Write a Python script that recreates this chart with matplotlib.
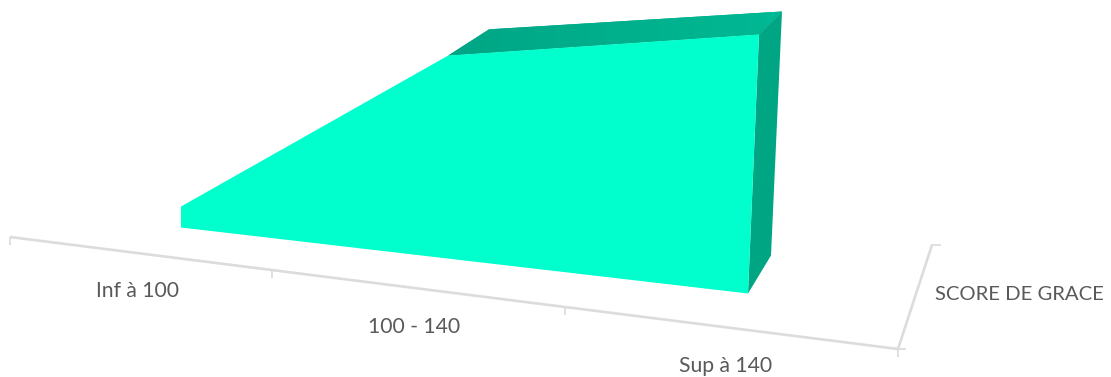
import numpy as np
import matplotlib
matplotlib.use("Agg")
import matplotlib.pyplot as plt
from matplotlib.patches import Polygon

categories = ["Inf à 100", "100 - 140", "Sup à 140"]
series_name = "SCORE DE GRACE"
values = [8.1, 78.2, 100.0]

W, H = 1111, 377
FRONT = "#00FFCC"
SIDE = "#00A683"
TOP_DARK = "#00A685"
TOP_LIGHT = "#00B994"
AXIS = "#DCDCDC"
TEXT = "#595959"

fig = plt.figure(figsize=(W / 100, H / 100), dpi=100)
ax = fig.add_axes([0, 0, 1, 1])
ax.set_xlim(0, W)
ax.set_ylim(H, 0)
ax.axis("off")

# Oblique perspective of the 3-D area chart, expressed in figure pixels.
base_left = np.array([181.0, 227.5])
base_right = np.array([748.0, 293.5])
k = 1.155          # horizontal foreshortening
px_per_unit = 2.59
lean = 11 / 259    # the vertical axis leans right towards the viewer


def project(c, v, d=0.0):
    """Category position c (0..n-1), value v, depth d (0..1) to pixels."""
    t = c / (len(categories) - 1)
    f = t / (t + k * (1 - t))
    b = base_left + f * (base_right - base_left)
    h = v * px_per_unit
    x = b[0] + f * lean * h
    y = b[1] - h
    dx = 41 + (23 - 41) * (2 * t - 1) if t >= 0.5 else 41 + 18 * (1 - 2 * t)
    dy = 38 - 15 * (v / max(values))
    return np.array([x + d * dx, y - d * dy])


n = len(values)
idx = range(n)

# axes
ax_start, ax_end = (10, 237), (898, 349)
tick_x = [10, 272, 565, 898]
depth_end = (932, 245)
slope = (ax_end[1] - ax_start[1]) / (ax_end[0] - ax_start[0])
lw = 1.9
ax.plot([ax_start[0], ax_end[0]], [ax_start[1], ax_end[1]], color=AXIS, lw=lw, solid_capstyle="butt")
for x in tick_x:
    y = ax_start[1] + slope * (x - ax_start[0])
    ax.plot([x, x], [y, y + 8], color=AXIS, lw=1.3, solid_capstyle="butt")
ax.plot([ax_end[0], depth_end[0]], [ax_end[1], depth_end[1]], color=AXIS, lw=lw, solid_capstyle="butt")
ax.plot([ax_end[0], ax_end[0] + 7], [ax_end[1], ax_end[1]], color=AXIS, lw=1.3)
ax.plot([depth_end[0], depth_end[0] + 8], [depth_end[1], depth_end[1]], color=AXIS, lw=1.3)

# top strip with a soft gradient (only the part visible behind the front face)
top = [project(1, values[1]), project(1, values[1], 1), project(2, values[2], 1), project(2, values[2])]
top_poly = Polygon(top, closed=True, facecolor=TOP_DARK, edgecolor="none", zorder=2)
ax.add_patch(top_poly)
cmap = matplotlib.colors.LinearSegmentedColormap.from_list("g", [TOP_DARK, TOP_LIGHT])
xs = [p[0] for p in top]
ys = [p[1] for p in top]
im = ax.imshow(np.linspace(0, 1, 256).reshape(1, -1), cmap=cmap, aspect="auto",
               extent=(min(xs), max(xs), max(ys), min(ys)), zorder=2.1)
im.set_clip_path(top_poly)
ax.set_xlim(0, W)
ax.set_ylim(H, 0)

# right side
side = [project(2, values[2]), project(2, values[2], 1), project(2, 0, 1), project(2, 0)]
ax.add_patch(Polygon(side, closed=True, facecolor=SIDE, edgecolor="none", zorder=3))

# front face
front = [project(i, values[i]) for i in idx] + [project(i, 0) for i in reversed(idx)]
ax.add_patch(Polygon(front, closed=True, facecolor=FRONT, edgecolor="none", zorder=4))

# labels
label_pos = [(138, 291), (414, 327), (726, 366)]
for s, (x, y) in zip(categories, label_pos):
    ax.text(x, y, s, ha="center", va="center", family="Lato", fontsize=15.2, color=TEXT)
ax.text(935, 295, series_name, ha="left", va="center", family="Lato", fontsize=14.6, color=TEXT)

fig.savefig("out.png", dpi=100)
